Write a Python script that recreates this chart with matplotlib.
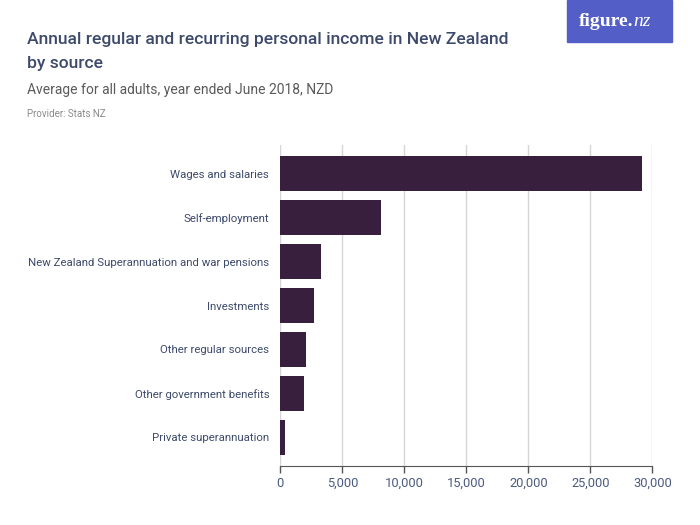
import matplotlib
matplotlib.use('Agg')
import matplotlib.pyplot as plt
from matplotlib.patches import Rectangle

plt.rcParams['font.family'] = ['Roboto', 'DejaVu Sans']

sources = ['Wages and salaries', 'Self-employment',
           'New Zealand Superannuation and war pensions', 'Investments',
           'Other regular sources', 'Other government benefits',
           'Private superannuation']
income = [29200, 8150, 3280, 2700, 2050, 1900, 380]
xticks = [0, 5000, 10000, 15000, 20000, 25000, 30000]

bar_col = '#371f3d'
text_col = '#3d4a6b'
tick_col = '#4a5a80'

W, H = 700, 525
fig = plt.figure(figsize=(7, 5.25), dpi=100)
ax = fig.add_axes([280.3 / W, 1 - 466 / H, (652.3 - 280.3) / W, (466 - 145) / H])

ax.barh(range(len(sources)), income, height=0.79, color=bar_col, zorder=3)
ax.set_ylim(len(sources) - 0.35, -0.65)
ax.set_xlim(0, 30000)
ax.set_xticks(xticks)
ax.set_xticklabels([f'{v:,}' for v in xticks], fontsize=9.3, color=tick_col)
ax.set_yticks(range(len(sources)))
ax.set_yticklabels(sources, fontsize=8.2, color=text_col)
ax.tick_params(axis='y', length=0, pad=8)
ax.tick_params(axis='x', length=5, color='#555555', width=1, pad=3)
ax.grid(axis='x', color='#d6d6d6', linewidth=1, zorder=0)
for s in ['top', 'right', 'left']:
    ax.spines[s].set_visible(False)
ax.spines['bottom'].set_color('#555555')

# header text
fig.text(27 / W, 1 - 44 / H, 'Annual regular and recurring personal income in New Zealand',
         fontsize=12.6, color=text_col, fontweight='medium', va='baseline')
fig.text(27 / W, 1 - 68 / H, 'by source',
         fontsize=12.6, color=text_col, fontweight='medium', va='baseline')
fig.text(27 / W, 1 - 94 / H, 'Average for all adults, year ended June 2018, NZD',
         fontsize=10, color='#5a5a5a', va='baseline')
fig.text(27 / W, 1 - 117 / H, 'Provider: Stats NZ',
         fontsize=7, color='#8a8a8a', va='baseline')

# logo box
fig.patches.append(Rectangle((567 / W, 1 - 42 / H), 105 / W, 42 / H,
                             transform=fig.transFigure, color='#535fc6'))
fig.text(579 / W, 1 - 26 / H, 'figure.', fontsize=14, color='white',
         family=['Liberation Serif', 'DejaVu Serif'], fontweight='bold',
         ha='left', va='baseline')
fig.text(633 / W, 1 - 26 / H, 'nz', fontsize=14, color='white',
         family=['Liberation Serif', 'DejaVu Serif'], fontstyle='italic',
         ha='left', va='baseline')

fig.savefig('out.png', dpi=100)
